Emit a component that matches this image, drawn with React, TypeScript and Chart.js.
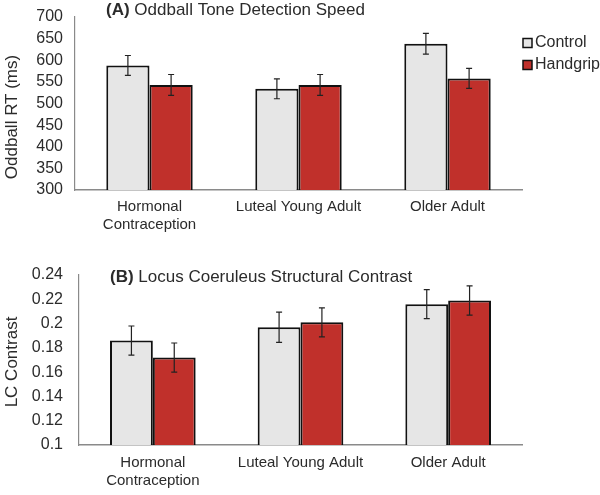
import React, { useEffect, useRef } from "react";
import { Chart, registerables } from "chart.js";

Chart.register(...registerables);

// ---------- Data ----------
const categories: (string | string[])[] = [["Hormonal", "Contraception"], "Luteal Young Adult", "Older Adult"];
const seriesNames = ["Control", "Handgrip"];

const rtControl = [588, 534, 638];
const rtHandgrip = [543, 543, 558];
const rtControlErr = [23, 23, 24];
const rtHandgripErr = [24, 24, 23];
const rtTicks = { min: 300, max: 700, step: 50 };

const lcControl = [0.186, 0.197, 0.216];
const lcHandgrip = [0.172, 0.201, 0.219];
const lcControlErr = [0.012, 0.0125, 0.012];
const lcHandgripErr = [0.012, 0.012, 0.012];
const lcTicks = { min: 0.1, max: 0.24, step: 0.02 };

// ---------- Styles ----------
const FONT = "'Liberation Sans', Arial, sans-serif";
const TEXT = "#2b2b2b";
const CONTROL_FILL = "#e6e6e6";
const HANDGRIP_FILL = "#c0302b";
const BORDER = "#111111";
const AXIS = "#8a8a8a";

type Cfg = {
  height: number;
  padTop: number;
  yWidth: number;
  xHeight: number;
  yPad: number;
  xPad: number;
  ctrl: number[];
  hg: number[];
  ctrlErr: number[];
  hgErr: number[];
  ticks: { min: number; max: number; step: number };
  fmt: (v: number) => string;
  titleBold: string;
  titleRest: string;
  titleY: number;
  yTitle: string;
  yTitleY: number;
  legend: boolean;
};

function makePlugin(cfg: Cfg) {
  return {
    id: "extras",
    afterDatasetsDraw(chart: any) {
      const ctx = chart.ctx as CanvasRenderingContext2D;
      const yScale = chart.scales.y;
      const errs = [cfg.ctrlErr, cfg.hgErr];
      ctx.save();
      ctx.strokeStyle = "#222";
      ctx.lineWidth = 1.2;
      chart.data.datasets.forEach((ds: any, di: number) => {
        const meta = chart.getDatasetMeta(di);
        meta.data.forEach((bar: any, i: number) => {
          const v = ds.data[i];
          const e = errs[di][i];
          const x = bar.x;
          const yTop = yScale.getPixelForValue(v + e);
          const yBot = yScale.getPixelForValue(v - e);
          ctx.beginPath();
          ctx.moveTo(x, yTop);
          ctx.lineTo(x, yBot);
          ctx.moveTo(x - 3, yTop);
          ctx.lineTo(x + 3, yTop);
          ctx.moveTo(x - 3, yBot);
          ctx.lineTo(x + 3, yBot);
          ctx.stroke();
        });
      });
      ctx.restore();
    },
    afterDraw(chart: any) {
      const ctx = chart.ctx as CanvasRenderingContext2D;
      const area = chart.chartArea;
      ctx.save();
      ctx.fillStyle = TEXT;
      ctx.textBaseline = "middle";
      ctx.textAlign = "left";
      // title
      const tx = area.left + 31;
      ctx.font = `bold 17px ${FONT}`;
      ctx.fillText(cfg.titleBold, tx, cfg.titleY);
      const w = ctx.measureText(cfg.titleBold).width;
      ctx.font = `17px ${FONT}`;
      ctx.fillText(cfg.titleRest, tx + w, cfg.titleY);
      // y title
      ctx.save();
      ctx.translate(12, cfg.yTitleY);
      ctx.rotate(-Math.PI / 2);
      ctx.textAlign = "center";
      ctx.font = `17px ${FONT}`;
      ctx.fillText(cfg.yTitle, 0, 0);
      ctx.restore();
      // legend
      if (cfg.legend) {
        const fills = [CONTROL_FILL, HANDGRIP_FILL];
        const lx = area.right + 1;
        const ys = [43, 65];
        seriesNames.forEach((name, i) => {
          ctx.fillStyle = fills[i];
          ctx.fillRect(lx, ys[i] - 4.5, 9, 9);
          ctx.strokeStyle = BORDER;
          ctx.lineWidth = 1.5;
          ctx.strokeRect(lx, ys[i] - 4.5, 9, 9);
          ctx.fillStyle = TEXT;
          ctx.font = `16px ${FONT}`;
          ctx.textAlign = "left";
          ctx.fillText(name, lx + 12, ys[i]);
        });
      }
      ctx.restore();
    },
  };
}

function BarPanel({ cfg }: { cfg: Cfg }) {
  const ref = useRef<HTMLCanvasElement>(null);
  useEffect(() => {
    if (!ref.current) return;
    const chart = new Chart(ref.current, {
      type: "bar",
      data: {
        labels: categories,
        datasets: [
          {
            label: seriesNames[0],
            data: cfg.ctrl,
            backgroundColor: CONTROL_FILL,
            borderColor: BORDER,
            borderWidth: 2,
            borderSkipped: false,
          },
          {
            label: seriesNames[1],
            data: cfg.hg,
            backgroundColor: HANDGRIP_FILL,
            borderColor: BORDER,
            borderWidth: 2,
            borderSkipped: false,
          },
        ],
      },
      options: {
        responsive: false,
        animation: false,
        layout: { autoPadding: false, padding: { left: 0, right: 78, top: cfg.padTop, bottom: 0 } },
        datasets: { bar: { categoryPercentage: 0.58, barPercentage: 1.0 } },
        plugins: { legend: { display: false }, tooltip: { enabled: false }, title: { display: false } },
        scales: {
          x: {
            grid: { display: false, drawTicks: false },
            border: { display: true, color: AXIS, width: 1.5 },
            ticks: { color: TEXT, font: { family: FONT, size: 15 }, padding: cfg.xPad, maxRotation: 0, autoSkip: false },
            afterFit: (s: any) => {
              s.height = cfg.xHeight;
              s.paddingLeft = 0;
              s.paddingRight = 0;
              s.paddingTop = 0;
              s.paddingBottom = 0;
            },
          },
          y: {
            min: cfg.ticks.min,
            max: cfg.ticks.max,
            grid: { display: false, drawTicks: false },
            border: { display: true, color: AXIS, width: 1.2 },
            ticks: {
              stepSize: cfg.ticks.step,
              autoSkip: false,
              color: TEXT,
              font: { family: FONT, size: 16 },
              padding: cfg.yPad,
              callback: (v: any) => cfg.fmt(Number(v)),
            },
            afterFit: (s: any) => {
              s.width = cfg.yWidth;
              s.paddingLeft = 0;
              s.paddingRight = 0;
              s.paddingTop = 0;
              s.paddingBottom = 0;
            },
          },
        },
      } as any,
      plugins: [makePlugin(cfg)],
    });
    return () => chart.destroy();
  }, [cfg]);
  return <canvas ref={ref} width={600} height={cfg.height} style={{ display: "block" }} />;
}

const cfgA: Cfg = {
  height: 248,
  padTop: 17,
  yWidth: 75,
  xHeight: 58,
  yPad: 12,
  xPad: 8,
  ctrl: rtControl,
  hg: rtHandgrip,
  ctrlErr: rtControlErr,
  hgErr: rtHandgripErr,
  ticks: rtTicks,
  fmt: (v) => String(Math.round(v)),
  titleBold: "(A)",
  titleRest: " Oddball Tone Detection Speed",
  titleY: 10,
  yTitle: "Oddball RT (ms)",
  yTitleY: 117,
  legend: true,
};

const cfgB: Cfg = {
  height: 247,
  padTop: 27,
  yWidth: 79,
  xHeight: 50,
  yPad: 16,
  xPad: 9,
  ctrl: lcControl,
  hg: lcHandgrip,
  ctrlErr: lcControlErr,
  hgErr: lcHandgripErr,
  ticks: lcTicks,
  fmt: (v) => String(+v.toFixed(2)),
  titleBold: "(B)",
  titleRest: " Locus Coeruleus Structural Contrast",
  titleY: 29,
  yTitle: "LC Contrast",
  yTitleY: 114,
  legend: false,
};

export default function App() {
  return (
    <div style={{ position: "absolute", left: 0, top: 0, width: 600, height: 495, background: "#fff" }}>
      <BarPanel cfg={cfgA} />
      <BarPanel cfg={cfgB} />
    </div>
  );
}
